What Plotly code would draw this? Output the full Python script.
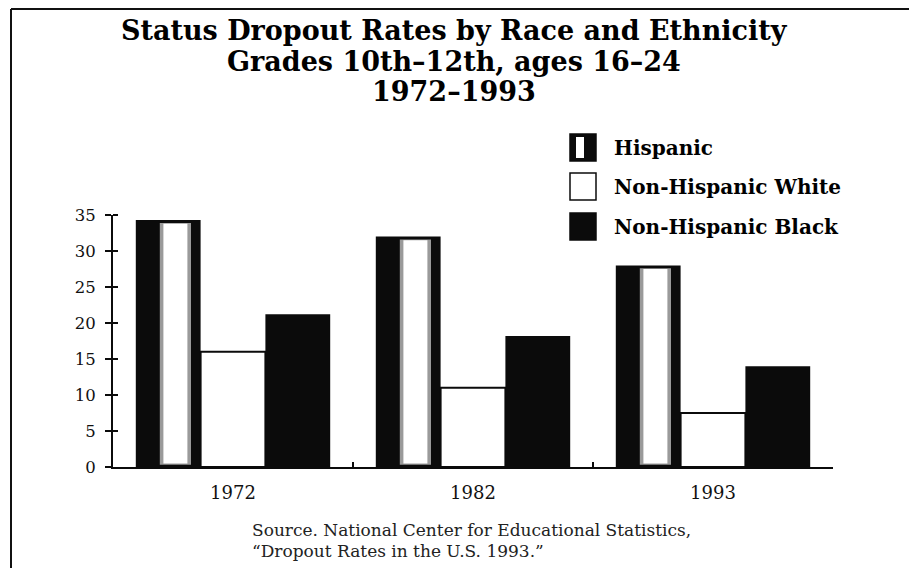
import plotly.graph_objects as go

# ---- data ----
years = ["1972", "1982", "1993"]
series_names = ["Hispanic", "Non-Hispanic White", "Non-Hispanic Black"]
hispanic = [34.3, 32.0, 28.0]
nh_white = [16.0, 11.0, 7.5]
nh_black = [21.2, 18.2, 14.0]
y_ticks = [0, 5, 10, 15, 20, 25, 30, 35]
title_lines = ["Status Dropout Rates by Race and Ethnicity",
               "Grades 10th\u201312th, ages 16\u201324",
               "1972\u20131993"]
source_lines = ["Source. National Center for Educational Statistics,",
                "\u201cDropout Rates in the U.S. 1993.\u201d"]

W, H = 909, 568
L, R, T, B = 113, 76, 215, 101
PW, PH = W - L - R, H - T - B
YMAX = 35.0

def px(xp):  # pixel x -> paper
    return (xp - L) / PW

def py(yp):  # pixel y -> paper
    return ((H - B) - yp) / PH

FONT = "DejaVu Serif"
BLACK = "#0b0b0b"
BW = 0.27

fig = go.Figure()
# Hispanic bars (black, with a light vertical stripe)
fig.add_trace(go.Bar(x=years, y=hispanic, offset=-0.405, width=BW,
                     marker=dict(color=BLACK, line=dict(width=0)),
                     name=series_names[0], showlegend=False))
fig.add_trace(go.Bar(x=years, y=[v - 0.7 for v in hispanic], base=0.3,
                     offset=-0.305, width=0.13,
                     marker=dict(color="#9a9a9a", line=dict(width=0)),
                     showlegend=False, hoverinfo="skip"))
fig.add_trace(go.Bar(x=years, y=[v - 1.0 for v in hispanic], base=0.5,
                     offset=-0.29, width=0.10,
                     marker=dict(color="white", line=dict(width=0)),
                     showlegend=False, hoverinfo="skip"))
# Non-Hispanic White bars (white, outlined)
fig.add_trace(go.Bar(x=years, y=nh_white, offset=-0.135, width=BW,
                     marker=dict(color="white", line=dict(color=BLACK, width=2)),
                     name=series_names[1], showlegend=False))
# Non-Hispanic Black bars
fig.add_trace(go.Bar(x=years, y=nh_black, offset=0.135, width=BW,
                     marker=dict(color=BLACK, line=dict(width=0)),
                     name=series_names[2], showlegend=False))

annotations = []
title_y = [30, 61, 92]
for t, yy in zip(title_lines, title_y):
    annotations.append(dict(text=t, xref="paper", yref="paper", x=px(454), y=py(yy),
                            xanchor="center", yanchor="middle", showarrow=False,
                            font=dict(family=FONT, size=27, color="black", weight="bold")))

# manual legend
shapes = []
box_tops = [134, 173, 213]
box_h = 27
for i, (name, top) in enumerate(zip(series_names, box_tops)):
    fill = BLACK if i != 1 else "white"
    shapes.append(dict(type="rect", xref="paper", yref="paper",
                       x0=px(570), x1=px(596), y0=py(top + box_h), y1=py(top),
                       fillcolor=fill, line=dict(color=BLACK, width=1.5)))
    if i == 0:
        shapes.append(dict(type="rect", xref="paper", yref="paper",
                           x0=px(576), x1=px(584), y0=py(top + box_h - 3), y1=py(top + 3),
                           fillcolor="white", line=dict(width=0)))
    annotations.append(dict(text=name, xref="paper", yref="paper", x=px(612),
                            y=py(top + box_h / 2), xanchor="left", yanchor="middle",
                            showarrow=False,
                            font=dict(family=FONT, size=20, color="black", weight="bold")))

for s, yy in zip(source_lines, [530, 551]):
    annotations.append(dict(text=s, xref="paper", yref="paper", x=px(250), y=py(yy),
                            xanchor="left", yanchor="middle", showarrow=False,
                            font=dict(family=FONT, size=17, color="#222")))

# page border (top and left)
shapes.append(dict(type="line", xref="paper", yref="paper", x0=px(11), x1=px(909),
                   y0=py(9), y1=py(9), line=dict(color="#111", width=2)))
shapes.append(dict(type="line", xref="paper", yref="paper", x0=px(11), x1=px(11),
                   y0=py(9), y1=py(568), line=dict(color="#111", width=2)))

fig.update_layout(
    width=W, height=H, autosize=False,
    margin=dict(l=L, r=R, t=T, b=B, pad=0),
    paper_bgcolor="white", plot_bgcolor="white",
    barmode="overlay", showlegend=False,
    annotations=annotations, shapes=shapes,
    font=dict(family=FONT, color="black"),
)
fig.update_xaxes(type="category", range=[-0.5, 2.5], showgrid=False,
                 showline=True, linecolor=BLACK, linewidth=2,
                 ticks="inside", tickson="boundaries", ticklen=5, tickwidth=2,
                 tickcolor=BLACK, tickfont=dict(family=FONT, size=18, color="#111"),
                 ticklabelstandoff=8)
fig.update_yaxes(range=[0, YMAX], showgrid=False, zeroline=False,
                 showline=True, linecolor=BLACK, linewidth=2,
                 ticks="outside", ticklen=6, tickwidth=2, tickcolor=BLACK,
                 tickvals=y_ticks, ticktext=[str(v) for v in y_ticks],
                 tickfont=dict(family=FONT, size=16.5, color="#111"),
                 ticklabelstandoff=6,
                 minor=dict(tickvals=y_ticks[1:], ticks="inside", ticklen=5,
                            tickwidth=2, tickcolor=BLACK, showgrid=False))

fig.write_html("out.html")
